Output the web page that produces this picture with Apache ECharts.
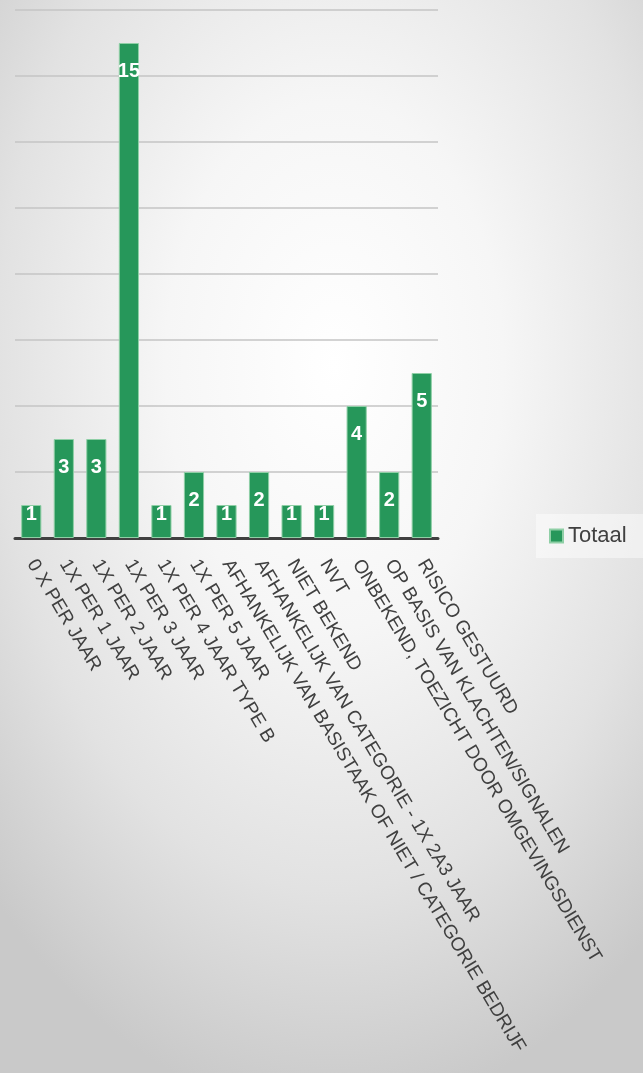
<!DOCTYPE html>
<html>
<head>
<meta charset="utf-8">
<script src="https://cdn.jsdelivr.net/npm/echarts@6/dist/echarts.min.js"></script>
<style>
html,body{margin:0;padding:0;width:643px;height:1073px;overflow:hidden;}
body{background:radial-gradient(ellipse 75% 70% at 52% 34%, #ffffff 0%, #f6f6f6 35%, #e2e2e2 70%, #c9c9c9 100%);}
#chart{width:643px;height:1073px;}
</style>
</head>
<body>
<div id="chart"></div>
<script>
var categories = [
  "0 X PER JAAR",
  "1X PER 1 JAAR",
  "1X PER 2 JAAR",
  "1X PER 3 JAAR",
  "1X PER 4 JAAR TYPE B",
  "1X PER 5 JAAR",
  "AFHANKELIJK VAN BASISTAAK OF NIET / CATEGORIE BEDRIJF",
  "AFHANKELIJK VAN CATEGORIE - 1X 2A3 JAAR",
  "NIET BEKEND",
  "NVT",
  "ONBEKEND, TOEZICHT DOOR OMGEVINGSDIENST",
  "OP BASIS VAN KLACHTEN/SIGNALEN",
  "RISICO GESTUURD"
];
var totaal = [1, 3, 3, 15, 1, 2, 1, 2, 1, 1, 4, 2, 5];
var seriesName = "Totaal";

var font = "Liberation Sans, Arial, sans-serif";
var chart = echarts.init(document.getElementById('chart'), null, {renderer: 'canvas'});
var data = totaal.map(function (v) {
  return {
    value: v,
    label: { position: ['50%', v <= 1 ? 9 : 28] }
  };
});
chart.setOption({
  backgroundColor: 'transparent',
  animation: false,
  grid: { left: 15, right: 205, top: 10, bottom: 535, containLabel: false },
  legend: {
    data: [seriesName],
    left: 536, top: 514,
    padding: [11, 20, 11, 13],
    backgroundColor: 'rgba(255,255,255,0.45)',
    icon: 'rect', itemWidth: 13, itemHeight: 13, itemGap: 5,
    textStyle: { color: '#404040', fontSize: 22, fontFamily: font }
  },
  xAxis: {
    type: 'category',
    data: categories,
    axisLine: { lineStyle: { color: '#404040', width: 3 } },
    axisTick: { show: false },
    axisLabel: {
      interval: 0, rotate: -59, margin: 23,
      color: '#404040', fontSize: 19, fontFamily: font,
      hideOverlap: false
    }
  },
  yAxis: {
    type: 'value', min: 0, max: 16, interval: 2,
    axisLabel: { show: false },
    axisLine: { show: false }, axisTick: { show: false },
    splitLine: { lineStyle: { color: '#c4c4c4', width: 1.5 } }
  },
  series: [{
    name: seriesName,
    type: 'bar',
    data: data,
    barCategoryGap: '38%',
    itemStyle: { color: '#26975a', borderColor: '#8fcfa6', borderWidth: 1 },
    label: {
      show: true, color: '#ffffff', fontWeight: 'bold', fontSize: 20,
      fontFamily: font, align: 'center', verticalAlign: 'middle'
    }
  }]
});
</script>
</body>
</html>
